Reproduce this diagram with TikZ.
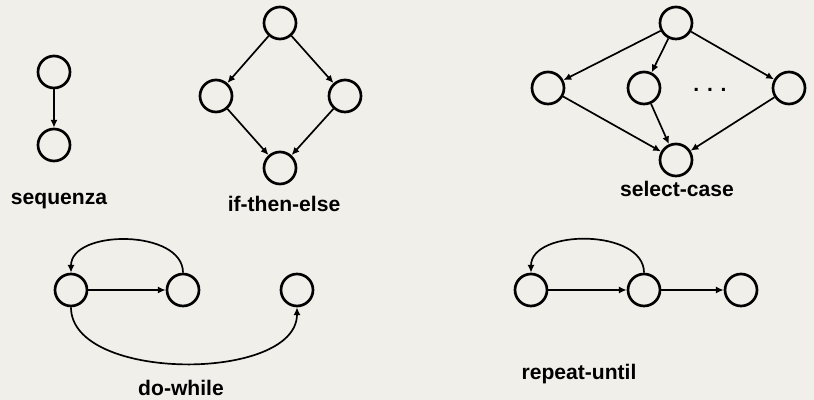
\documentclass[tikz,border=0pt]{standalone}
\usepackage{fontspec}
\setmainfont{Liberation Sans}
\usetikzlibrary{arrows.meta}
\definecolor{paper}{RGB}{241,239,234}
\begin{document}
\begin{tikzpicture}[
        >={Latex[length=5.5pt,width=5pt]},
        state/.style={draw, circle, line width=1.9pt, minimum size=0.8cm, inner sep=0pt},
        flow/.style={->, line width=1.2pt},
        caption/.style={font=\bfseries\fontsize{15}{18}\selectfont}
    ]
        \fill[paper] (0, 0) rectangle (20.35, 10);
        \useasboundingbox (0, 0) rectangle (20.35, 10);

        % sequenza
        \node[state] (sqa) at (1.35, 8.2) {};
        \node[state] (sqb) at (1.35, 6.375) {};
        \draw[flow] (sqa) -- (sqb);
        \node[caption] (sqlabel) at (1.475, 4.975) {sequenza};

        % if-then-else
        \node[state] (itop) at (7.0, 9.425) {};
        \node[state] (ileft) at (5.4, 7.6) {};
        \node[state] (iright) at (8.625, 7.6) {};
        \node[state] (ibot) at (7.0, 5.8) {};
        \draw[flow] (itop) -- (ileft);
        \draw[flow] (itop) -- (iright);
        \draw[flow] (ileft) -- (ibot);
        \draw[flow] (iright) -- (ibot);
        \node[caption] (ilabel) at (7.1, 4.9) {if-then-else};

        % select-case
        \node[state] (stop) at (16.9, 9.425) {};
        \node[state] (sa) at (13.7, 7.8) {};
        \node[state] (sb) at (16.1, 7.8) {};
        \node[state] (sc) at (19.725, 7.8) {};
        \node[state] (sbot) at (16.9, 6.0) {};
        \foreach \k in {sa, sb, sc} {
            \draw[flow] (stop) -- (\k);
            \draw[flow] (\k) -- (sbot);
        }
        \node[caption] (sdots) at (17.75, 7.75) {. . .};
        \node[caption] (slabel) at (16.925, 5.27) {select-case};

        % do-while
        \node[state] (dwa) at (1.775, 2.75) {};
        \node[state] (dwb) at (4.575, 2.75) {};
        \node[state] (dwc) at (7.425, 2.75) {};
        \draw[flow] (dwa) -- (dwb);
        \draw[flow] (dwb.north) to[out=90, in=90] (dwa.north);
        \draw[flow] (dwa.south) to[out=-90, in=-90, looseness=0.85] (dwc.south);
        \node[caption] (dwlabel) at (4.525, 0.3) {do-while};

        % repeat-until
        \node[state] (rua) at (13.275, 2.75) {};
        \node[state] (rub) at (16.1, 2.75) {};
        \node[state] (ruc) at (18.525, 2.75) {};
        \draw[flow] (rua) -- (rub);
        \draw[flow] (rub) -- (ruc);
        \draw[flow] (rub.north) to[out=90, in=90] (rua.north);
        \node[caption] (rulabel) at (14.475, 0.65) {repeat-until};
    \end{tikzpicture}
\end{document}
